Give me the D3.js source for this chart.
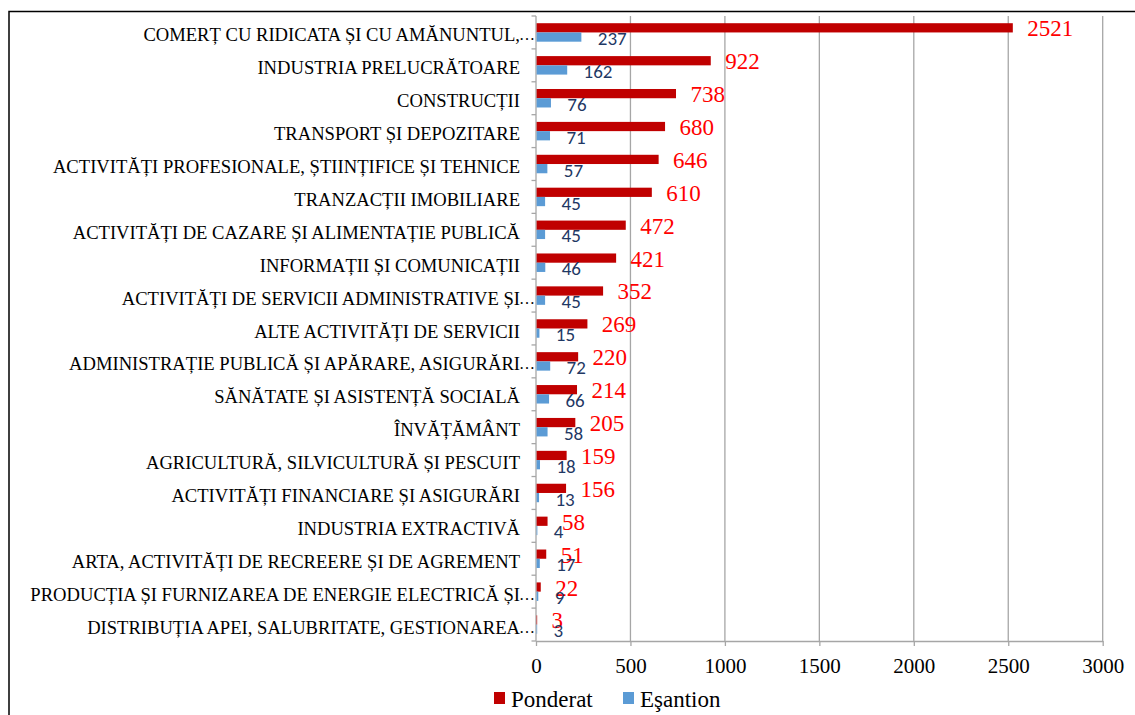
<!DOCTYPE html>
<html>
<head>
<meta charset="utf-8">
<script src="https://cdn.jsdelivr.net/npm/d3@7"></script>
<style>
  body { margin: 0; background: #fff; }
  svg { display: block; }
</style>
</head>
<body>
<div id="chart"></div>
<script>
//// Data
const categories = [
    "COMERȚ CU RIDICATA ȘI CU AMĂNUNTUL,…",
    "INDUSTRIA PRELUCRĂTOARE",
    "CONSTRUCȚII",
    "TRANSPORT ȘI DEPOZITARE",
    "ACTIVITĂȚI PROFESIONALE, ȘTIINȚIFICE ȘI TEHNICE",
    "TRANZACȚII IMOBILIARE",
    "ACTIVITĂȚI DE CAZARE ȘI ALIMENTAȚIE PUBLICĂ",
    "INFORMAȚII ȘI COMUNICAȚII",
    "ACTIVITĂȚI DE SERVICII ADMINISTRATIVE ȘI…",
    "ALTE ACTIVITĂȚI DE SERVICII",
    "ADMINISTRAȚIE PUBLICĂ ȘI APĂRARE, ASIGURĂRI…",
    "SĂNĂTATE ȘI ASISTENȚĂ SOCIALĂ",
    "ÎNVĂȚĂMÂNT",
    "AGRICULTURĂ, SILVICULTURĂ ȘI PESCUIT",
    "ACTIVITĂȚI FINANCIARE ȘI ASIGURĂRI",
    "INDUSTRIA EXTRACTIVĂ",
    "ARTA, ACTIVITĂȚI DE RECREERE ȘI DE AGREMENT",
    "PRODUCȚIA ȘI FURNIZAREA DE ENERGIE ELECTRICĂ ȘI…",
    "DISTRIBUȚIA APEI, SALUBRITATE, GESTIONAREA…"
]
const ponderat = [2521, 922, 738, 680, 646, 610, 472, 421, 352, 269, 220, 214, 205, 159, 156, 58, 51, 22, 3]
const esantion = [237, 162, 76, 71, 57, 45, 45, 46, 45, 15, 72, 66, 58, 18, 13, 4, 17, 9, 3]
const x_ticks = [0, 500, 1000, 1500, 2000, 2500, 3000]
const series_names = ["Ponderat", "Eşantion"]

const RED = "#c00000"
const BLUE = "#5b9bd5"
const RED_LABEL = "#ff0000"
const BLUE_LABEL = "#1f3864"
const GRID = "#a6a6a6"
const SERIF = "Liberation Serif, Times New Roman, Tinos, DejaVu Serif, serif"
const SANS = "Carlito, Liberation Sans, Arial, sans-serif"

const W = 1135, H = 715
const plot = {left: 536, right: 1102.7, top: 16, bottom: 641}

const rows = categories.map((c, i) => ({cat: c, values: [ponderat[i], esantion[i]]}))

const svg = d3.select("#chart")
    .append("svg")
        .attr("width", W)
        .attr("height", H)

// Outer frame (only the top and left edges are visible)
svg.append("path")
    .attr("d", "M9,715 L9,11.5 L1135,11.5")
    .attr("fill", "none")
    .attr("stroke", "#000")
    .attr("stroke-width", 1.5)

// Scales
const x = d3.scaleLinear()
    .domain([0, 3000])
    .range([plot.left, plot.right])

const y = d3.scaleBand()
    .domain(categories)
    .range([plot.top, plot.bottom])

const y_inner = d3.scaleBand()
    .domain([0, 1])
    .range([0, y.bandwidth()])
    .paddingOuter(0.78)

// Vertical gridlines
svg.append("g")
    .selectAll("line")
        .data(x_ticks.slice(1))
        .enter()
        .append("line")
            .attr("x1", d => x(d))
            .attr("x2", d => x(d))
            .attr("y1", plot.top)
            .attr("y2", plot.bottom)
            .attr("stroke", GRID)
            .attr("stroke-width", 1.3)

// X axis
const x_axis = svg.append("g")
    .attr("transform", "translate(0," + plot.bottom + ")")
    .call(d3.axisBottom(x).tickValues(x_ticks).tickFormat(d3.format("d")).tickSize(5).tickSizeOuter(0))
x_axis.select(".domain").attr("stroke", GRID).attr("stroke-width", 1.3)
x_axis.selectAll(".tick line").attr("stroke", GRID).attr("stroke-width", 1.3)
x_axis.selectAll(".tick text")
    .attr("fill", "#000")
    .style("font-family", SERIF)
    .style("font-size", "21px")
    .attr("dy", null)
    .attr("dominant-baseline", "central")
    .attr("y", 25)

// Y axis line and boundary ticks
svg.append("line")
    .attr("x1", plot.left).attr("x2", plot.left)
    .attr("y1", plot.top).attr("y2", plot.bottom)
    .attr("stroke", GRID)
    .attr("stroke-width", 1.3)

svg.append("g")
    .selectAll("line")
        .data(d3.range(categories.length + 1))
        .enter()
        .append("line")
            .attr("x1", plot.left - 4.5)
            .attr("x2", plot.left)
            .attr("y1", i => plot.top + i * y.step())
            .attr("y2", i => plot.top + i * y.step())
            .attr("stroke", GRID)
            .attr("stroke-width", 1.3)

// Category labels; the ellipsis hangs past the right edge like in the original
const cat_labels = svg.append("g")
    .selectAll("g")
        .data(categories)
        .enter()
        .append("g")
            .attr("transform", d => "translate(0," + (y(d) + y.bandwidth() / 2 + 2.5) + ")")

cat_labels.append("text")
    .attr("x", 520)
    .attr("text-anchor", "end")
    .attr("dominant-baseline", "central")
    .style("font-family", SERIF)
    .style("font-size", "18.6px")
    .attr("fill", "#000")
    .text(d => d.replace("…", ""))

cat_labels.filter(d => d.endsWith("…"))
    .append("text")
        .attr("x", 519)
        .attr("dominant-baseline", "central")
        .style("font-family", SERIF)
        .style("font-size", "16px")
        .attr("fill", "#000")
        .text("…")

// Bars
const groups = svg.append("g")
    .selectAll("g")
        .data(rows)
        .enter()
        .append("g")
            .attr("transform", d => "translate(0," + y(d.cat) + ")")

const colors = [RED, BLUE]
groups.selectAll("rect")
    .data(d => d.values)
    .enter()
    .append("rect")
        .attr("x", x(0) + 0.6)
        .attr("y", (d, i) => y_inner(i))
        .attr("width", d => x(d) - x(0))
        .attr("height", y_inner.bandwidth())
        .attr("fill", (d, i) => colors[i])

// Value labels
const label_styles = [
    {fill: RED_LABEL, font: SERIF, size: 23, dx: 15, dy: 1},
    {fill: BLUE_LABEL, font: SANS, size: 19, dx: 17, dy: 1.5}
]
groups.selectAll("text")
    .data(d => d.values)
    .enter()
    .append("text")
        .attr("x", (d, i) => x(d) + label_styles[i].dx)
        .attr("y", (d, i) => y_inner(i) + y_inner.bandwidth() / 2 + label_styles[i].dy)
        .attr("dominant-baseline", "central")
        .style("font-family", (d, i) => label_styles[i].font)
        .style("font-size", (d, i) => label_styles[i].size + "px")
        .attr("fill", (d, i) => label_styles[i].fill)
        .text(d => d)

// Legend
const legend = svg.append("g")
    .attr("transform", "translate(494,698)")
const legend_x = [0, 129]
const legend_items = legend.selectAll("g")
    .data(series_names)
    .enter()
    .append("g")
        .attr("transform", (d, i) => "translate(" + legend_x[i] + ",0)")
legend_items.append("rect")
    .attr("x", 0).attr("y", -6)
    .attr("width", 11).attr("height", 12)
    .attr("fill", (d, i) => colors[i])
legend_items.append("text")
    .attr("x", 17)
    .attr("y", 1)
    .attr("dominant-baseline", "central")
    .style("font-family", SERIF)
    .style("font-size", "23px")
    .attr("fill", "#000")
    .text(d => d)
</script>
</body>
</html>
